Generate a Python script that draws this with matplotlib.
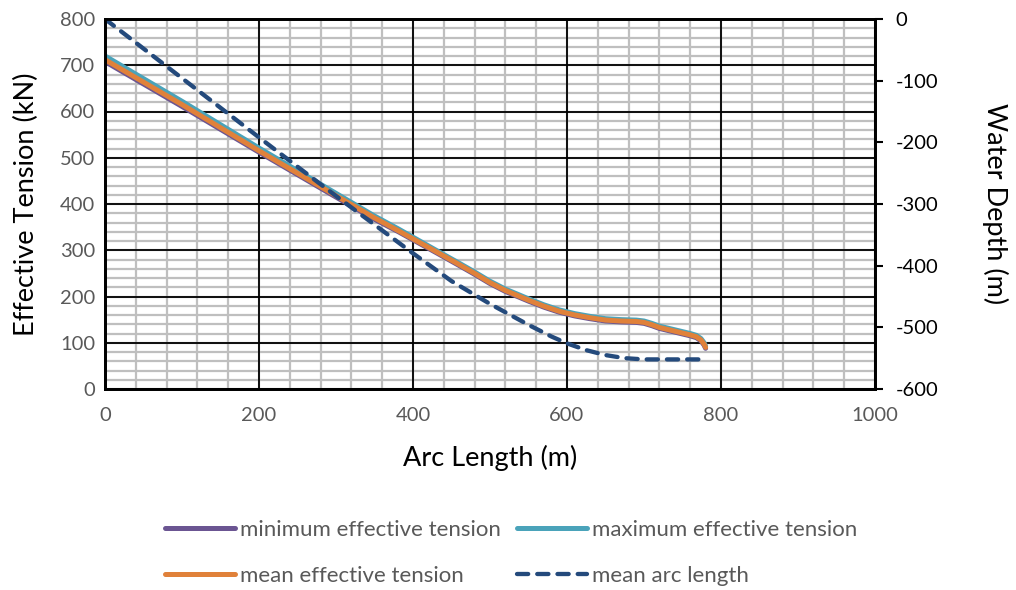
import numpy as np
import matplotlib
matplotlib.use("Agg")
import matplotlib.pyplot as plt
from matplotlib.ticker import MultipleLocator, NullLocator

plt.rcParams["font.family"] = ["Lato", "DejaVu Sans"]
plt.rcParams["axes.unicode_minus"] = False

# Tension along the riser (kN) vs arc length (m)
arc_t = [0, 100, 200, 300, 350, 380, 430, 460, 480, 500, 520, 550, 570, 590,
         610, 630, 650, 670, 690, 700, 710, 720, 740, 760, 768, 774, 778, 780]
mean_t = [712, 615, 515, 418, 370, 343, 297, 269, 250, 230, 213, 192, 179, 168,
          160, 154, 149, 147, 146, 144, 139, 133, 125, 117, 113, 106, 97, 90]
max_t = [720, 622, 521, 423, 374, 347, 300, 272, 253, 233, 216, 195, 182, 171,
         163, 157, 152, 150, 149, 147, 142, 136, 128, 120, 116, 109, 100, 93]
min_t = [708, 611, 512, 415, 367, 341, 295, 267, 248, 228, 211, 190, 177, 166,
         158, 152, 147, 145, 144, 142, 137, 131, 123, 115, 111, 104, 95, 88]

# Water depth (m) vs arc length (m)
arc_d = [0, 100, 200, 300, 400, 450, 500, 550, 580, 600, 625, 650, 675, 700, 780]
depth = [0, -96, -192, -287, -380, -425, -462, -496, -515, -526, -537, -545,
         -550, -552, -552]

C_MIN = "#6b5592"
C_MAX = "#4aa3ba"
C_MEAN = "#e0813a"
C_ARC = "#244a7c"
GREY_TXT = "#595959"

fig = plt.figure(figsize=(10.16, 5.90), dpi=100)
rect = [105 / 1016, 1 - 389 / 590, 770 / 1016, 370 / 590]

# minor grid lives on a background axes so the black major grid sits on top
axg = fig.add_axes(rect, zorder=0)
axg.set_xlim(0, 1000)
axg.set_ylim(0, 800)
axg.xaxis.set_major_locator(MultipleLocator(40))
axg.yaxis.set_major_locator(MultipleLocator(20))
axg.grid(color="#bfbfbf", linewidth=1.6)
axg.tick_params(length=0, labelbottom=False, labelleft=False)
for s in axg.spines.values():
    s.set_visible(False)

ax = fig.add_axes(rect, zorder=1)
ax.patch.set_alpha(0)
ax.set_xlim(0, 1000)
ax.set_ylim(0, 800)
ax.xaxis.set_major_locator(MultipleLocator(200))
ax.yaxis.set_major_locator(MultipleLocator(100))
ax.grid(which="major", color="black", linewidth=1.3)
ax.set_axisbelow(True)
ax.tick_params(length=0, labelsize=14.5, labelcolor=GREY_TXT)
ax.tick_params(axis="x", pad=13)
ax.tick_params(axis="y", pad=7)
for s in ax.spines.values():
    s.set_linewidth(2)
    s.set_color("black")

l_min, = ax.plot(arc_t, min_t, color=C_MIN, lw=3.6, solid_capstyle="round",
                 label="minimum effective tension")
l_max, = ax.plot(arc_t, max_t, color=C_MAX, lw=3.6, solid_capstyle="round",
                 label="maximum effective tension")
l_mean, = ax.plot(arc_t, mean_t, color=C_MEAN, lw=3.6, solid_capstyle="round",
                  label="mean effective tension")

ax.set_xlabel("Arc Length (m)", fontsize=19.5, va="center")
ax.xaxis.set_label_coords(0.5, (389 - 458) / 370)
ax.set_ylabel("Effective Tension (kN)", fontsize=19.5, va="center")
ax.yaxis.set_label_coords((26 - 105) / 770, 0.5)

ax2 = ax.twinx()
ax2.set_ylim(-600, 0)
ax2.yaxis.set_major_locator(MultipleLocator(100))
ax2.tick_params(axis="y", direction="out", length=6, width=1.5, labelsize=14.5,
                labelcolor="black", pad=9)
for s in ax2.spines.values():
    s.set_linewidth(2)
l_arc, = ax2.plot(arc_d, depth, color=C_ARC, lw=3.1, dashes=(2.6, 2.1),
                  dash_capstyle="round", label="mean arc length")
ax2.set_ylabel("Water Depth (m)", fontsize=19.5, rotation=-90, va="center",
               ha="center")
ax2.yaxis.set_label_coords((995 - 105) / 770, 0.5)

fig.legend([l_min, l_mean, l_max, l_arc],
           [h.get_label() for h in [l_min, l_mean, l_max, l_arc]],
           ncol=2, loc="center", bbox_to_anchor=(511 / 1016, 1 - 553 / 590),
           frameon=False, fontsize=16, handlelength=3.15, handletextpad=0.2,
           columnspacing=0.75, labelspacing=1.15, labelcolor=GREY_TXT)

fig.savefig("out.png", dpi=100)
